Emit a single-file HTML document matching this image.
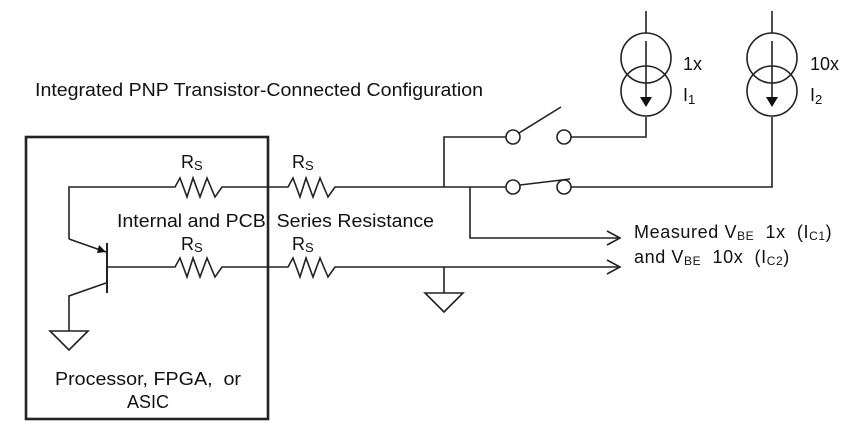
<!DOCTYPE html>
<html><head><meta charset="utf-8"><style>
html,body{margin:0;padding:0;background:#fff;}
svg{display:block;}
text{font-family:"Liberation Sans",Arial,sans-serif;fill:#111;}
</style></head><body>
<svg width="865" height="439" viewBox="0 0 865 439" xmlns="http://www.w3.org/2000/svg">
<g stroke="#222" stroke-width="1.6" fill="none">
<rect x="26" y="137" width="242" height="282" stroke-width="2.6"/>
<polyline points="69,239 69,187 175,187 180,178 187,197 193,178 200,197 207,178 215,197 222,187 288,187 293,178 300,197 306,178 313,197 320,178 328,197 335,187 444,187"/>
<line x1="69" y1="239" x2="106" y2="252"/>
<line x1="107" y1="243" x2="107" y2="293" stroke-width="2"/>
<polyline points="107,267 175,267 180,258 187,277 193,258 200,277 207,258 215,277 222,267 288,267 293,258 300,277 306,258 313,277 320,258 328,277 335,267 618,267"/>
<polyline points="106,283 69,296 69,331"/>
<polygon points="50,331 88,331 69,350"/>
<line x1="444" y1="267" x2="444" y2="293"/>
<polygon points="425,293 463,293 444,312"/>
<polyline points="444,187 444,137 506,137"/>
<circle cx="513" cy="137" r="7"/>
<line x1="519" y1="133" x2="561" y2="107"/>
<circle cx="564" cy="137" r="7"/>
<polyline points="571,137 646,137 646,117"/>
<line x1="444" y1="187" x2="506" y2="187"/>
<circle cx="513" cy="187" r="7"/>
<line x1="520" y1="185" x2="570" y2="179"/>
<circle cx="564" cy="187" r="7"/>
<polyline points="571,187 772,187 772,117"/>
<polyline points="470,187 470,238 618,238"/>
<polyline points="607,231 620,238 607,245"/>
<polyline points="607,260 620,267 607,274"/>
<line x1="646" y1="11" x2="646" y2="33"/>
<circle cx="646" cy="58" r="25"/>
<circle cx="646" cy="91" r="25"/>
<line x1="646" y1="41" x2="646" y2="98"/>
<line x1="772" y1="11" x2="772" y2="33"/>
<circle cx="772" cy="58" r="25"/>
<circle cx="772" cy="91" r="25"/>
<line x1="772" y1="41" x2="772" y2="98"/>
</g>
<polygon points="640,97 652,97 646,107" fill="#111"/>
<polygon points="766,97 778,97 772,107" fill="#111"/>
<polygon points="99,245 106,252 97,253" fill="#111"/>
<text x="35" y="96" font-size="18" textLength="448" lengthAdjust="spacingAndGlyphs">Integrated PNP Transistor-Connected Configuration</text>
<text x="683" y="70" font-size="18">1x</text>
<text x="683" y="101" font-size="18">I<tspan font-size="13" dy="3">1</tspan></text>
<text x="810" y="70" font-size="18">10x</text>
<text x="810" y="101" font-size="18">I<tspan font-size="13" dy="3">2</tspan></text>
<text x="181" y="168" font-size="18">R<tspan font-size="13" dy="2">S</tspan></text>
<text x="292" y="168" font-size="18">R<tspan font-size="13" dy="2">S</tspan></text>
<text x="181" y="250" font-size="18">R<tspan font-size="13" dy="2">S</tspan></text>
<text x="292" y="250" font-size="18">R<tspan font-size="13" dy="2">S</tspan></text>
<text x="117" y="227" font-size="18" textLength="317" lengthAdjust="spacingAndGlyphs" xml:space="preserve">Internal and PCB  Series Resistance</text>
<text x="634" y="238" font-size="18" xml:space="preserve" letter-spacing="0.6">Measured V<tspan font-size="12" dy="2">BE</tspan><tspan dy="-2">  1x  (I</tspan><tspan font-size="12" dy="2">C1</tspan><tspan dy="-2">)</tspan></text>
<text x="634" y="263" font-size="18" xml:space="preserve" letter-spacing="0.6">and V<tspan font-size="12" dy="2">BE</tspan><tspan dy="-2">  10x  (I</tspan><tspan font-size="12" dy="2">C2</tspan><tspan dy="-2">)</tspan></text>
<text x="148" y="385" font-size="18" text-anchor="middle" textLength="186" lengthAdjust="spacingAndGlyphs" xml:space="preserve">Processor, FPGA,  or</text>
<text x="148" y="408" font-size="18" text-anchor="middle">ASIC</text>
</svg>
</body></html>
